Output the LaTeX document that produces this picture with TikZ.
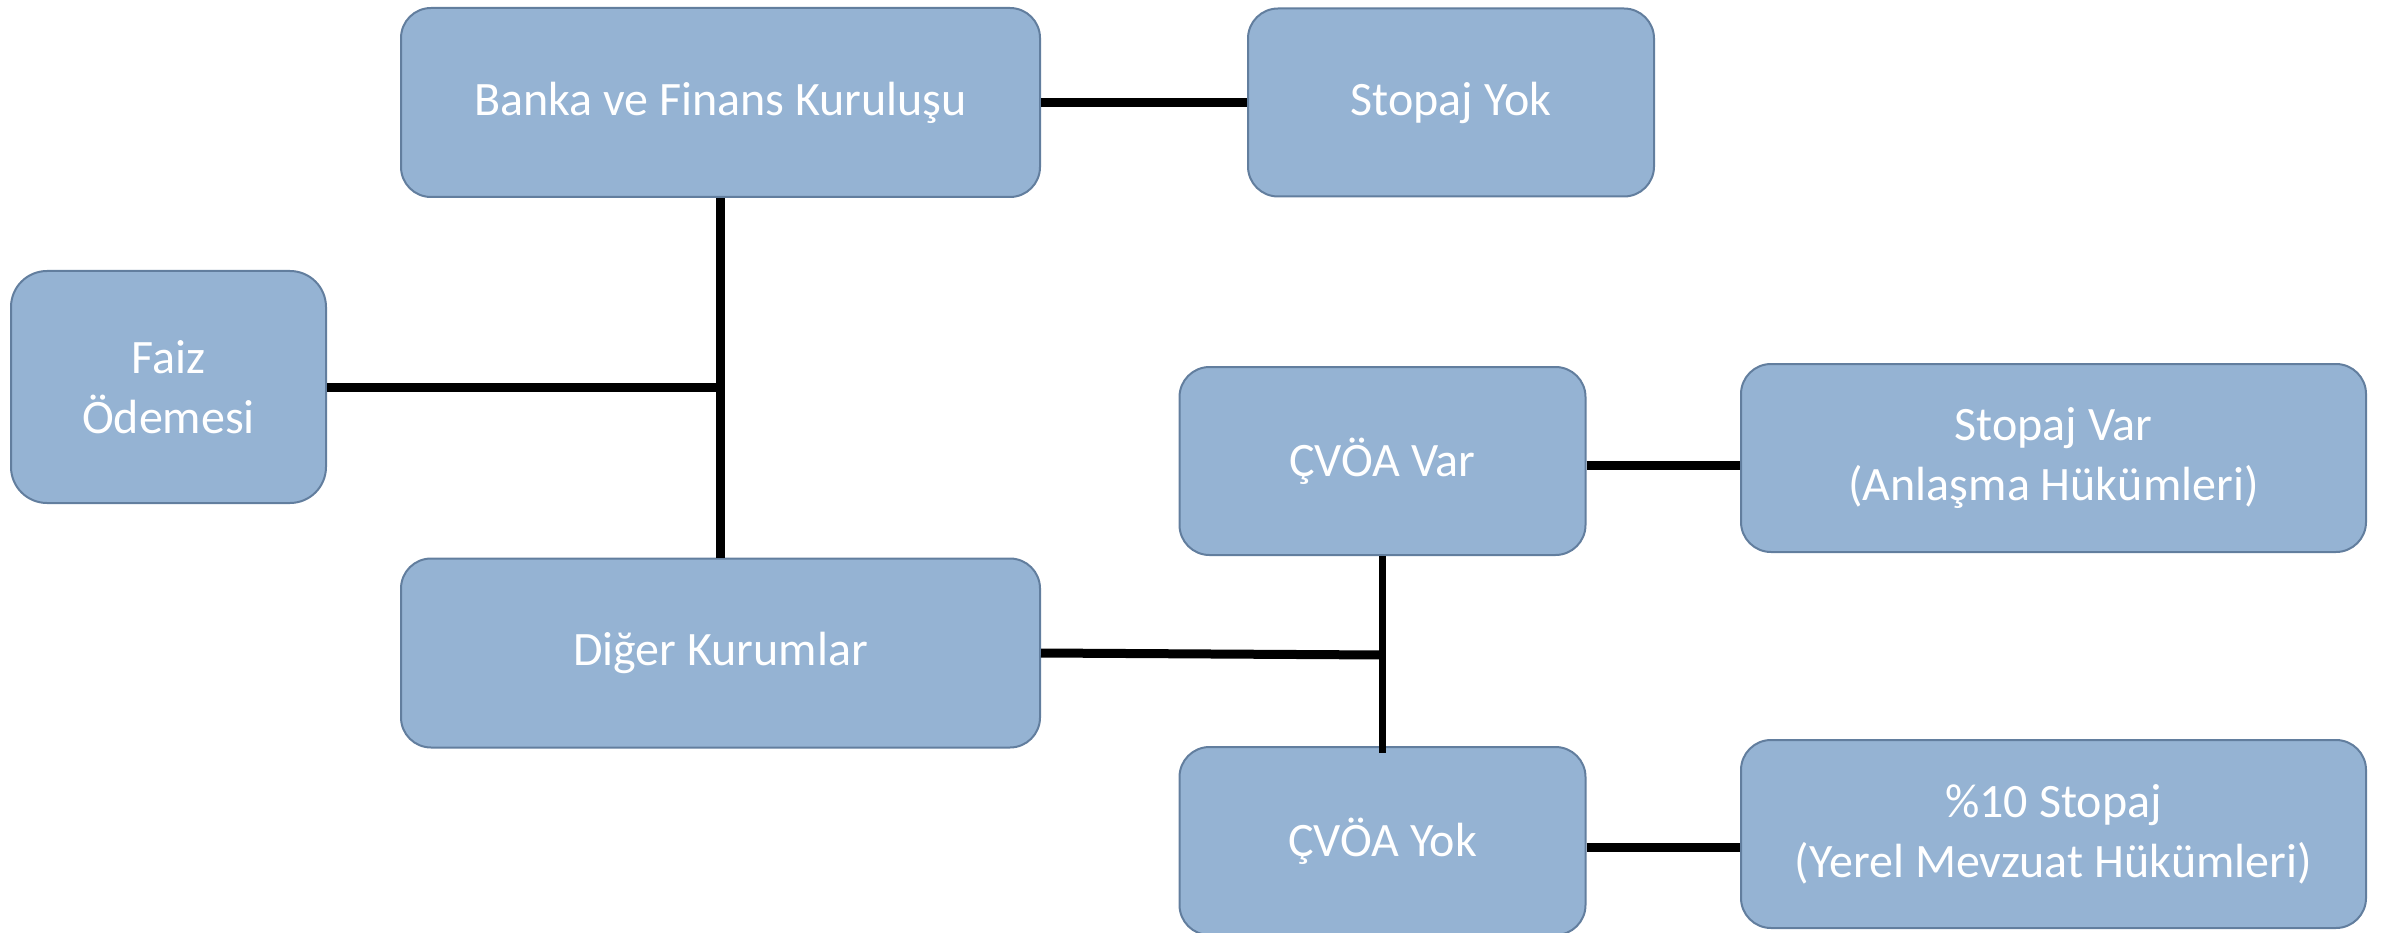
\documentclass[tikz,border=0pt]{standalone}
\usepackage{fontspec}
\setmainfont{Carlito}
\usepackage{xcolor}
\usetikzlibrary{positioning}
\definecolor{KutuFill}{RGB}{149,179,211}
\definecolor{KutuLine}{RGB}{98,126,158}
\tikzset{
  kutu/.style={rectangle,rounded corners=30pt,draw=KutuLine,line width=2pt,
               fill=KutuFill,text=white,align=center,inner sep=0pt,
               font=\fontsize{48}{60}\selectfont},
  genis/.style={kutu,minimum width=639pt,minimum height=189pt},
  dar/.style={kutu,minimum width=406pt,minimum height=188pt},
  uzun/.style={kutu,minimum width=625pt,minimum height=188pt},
  bag/.style={line width=9pt,black},
  ince/.style={line width=6.5pt,black},
}
\begin{document}
\begin{tikzpicture}[x=1pt,y=-1pt]
  \useasboundingbox (0,0) rectangle (2390,933);
  \node[genis] (banka) at (720.5,102.5) {Banka ve Finans Kuruluşu};
  \node[dar] (stopajyok) at (1451,102.5) {Stopaj Yok};
  \node[kutu,rounded corners=36pt,minimum width=315pt,minimum height=232pt] (faiz) at (168.5,387) {Faiz\\Ödemesi};
  \node[genis] (diger) at (720.5,653) {Diğer Kurumlar};
  \node[dar] (cvoavar) at (1382.5,461) {ÇVÖA Var};
  \node[uzun] (stopajvar) at (2053.5,458) {Stopaj Var\\(Anlaşma Hükümleri)};
  \node[dar] (cvoayok) at (1382.5,841) {ÇVÖA Yok};
  \node[uzun] (yuzde) at (2053.5,834) {\%10 Stopaj\\(Yerel Mevzuat Hükümleri)};
  % baglantilar
  \coordinate (kavsak) at (banka.south |- faiz.east);
  \coordinate (catal) at (1382.5,655);
  \draw[bag] (banka.east) -- (stopajyok.west);
  \draw[bag] (banka.south) -- (diger.north);
  \draw[bag] (faiz.east) -- (kavsak);
  \draw[bag] (diger.east) -- (catal);
  \draw[ince] (cvoavar.south) -- ([yshift=-7pt]cvoayok.north);
  \draw[bag] ([yshift=-4pt]cvoavar.east) -- ([yshift=-4pt]cvoavar.east -| stopajvar.west);
  \draw[bag] ([yshift=-6pt]cvoayok.east) -- ([yshift=-6pt]cvoayok.east -| yuzde.west);
\end{tikzpicture}
\end{document}
